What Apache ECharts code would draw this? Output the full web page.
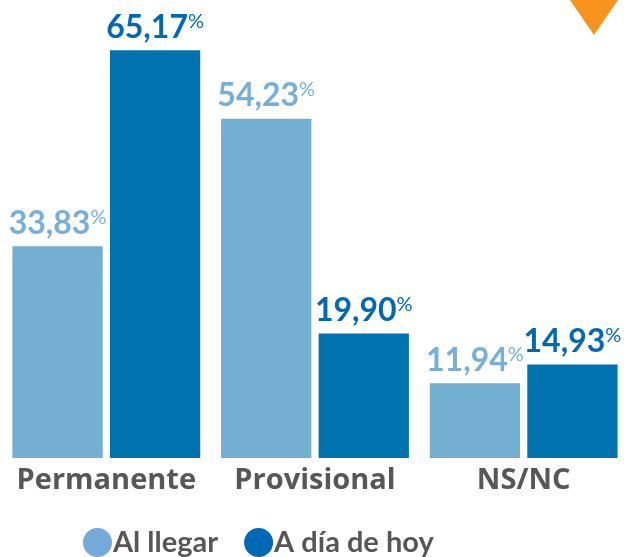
<!DOCTYPE html>
<html lang="es">
<head>
    <meta charset="UTF-8">
    <script src="https://cdn.jsdelivr.net/npm/echarts@6/dist/echarts.min.js"></script>
    <title>situacion</title>
</head>
<body style="margin: 0; background: #fff">
<div id="container" style="width: 628px; height: 557px"></div>
<script>
    // datos
    var categorias = ['Permanente', 'Provisional', 'NS/NC'];
    var alLlegar = [33.83, 54.23, 11.94];
    var aDiaDeHoy = [65.17, 19.90, 14.93];

    var colorClaro = '#72afd0';
    var colorOscuro = '#0072ae';
    var textoClaro = '#78afd8';
    var textoOscuro = '#0068b2';
    var gris = '#575757';
    var fuente = 'Lato';

    function etiqueta(color) {
        return {
            show: true,
            position: 'top',
            distance: 7,
            formatter: function (p) {
                return '{v|' + p.value.toFixed(2).replace('.', ',') + '}{p|%}';
            },
            rich: {
                v: {fontFamily: fuente, fontWeight: 'bold', fontSize: 32, color: color},
                p: {fontFamily: fuente, fontSize: 20, color: color, padding: [0, 0, 12, 0]}
            }
        };
    }

    var myChart = echarts.init(document.getElementById('container'));
    var option = {
        animation: false,
        grid: {left: 2, right: -2, top: 20, bottom: 99},
        legend: {
            left: 78,
            top: 523,
            icon: 'circle',
            itemWidth: 29,
            itemHeight: 29,
            itemGap: 26,
            textStyle: {fontFamily: fuente, fontWeight: 'bold', fontSize: 29, color: gris, padding: [0, 0, 0, -4]},
            data: [
                {name: 'Al llegar', itemStyle: {color: '#74aad8'}},
                {name: 'A día de hoy', itemStyle: {color: '#0068b4'}}
            ]
        },
        xAxis: {
            type: 'category',
            data: categorias,
            axisLine: {show: false},
            axisTick: {show: false},
            axisLabel: {interval: 0, hideOverlap: false, fontFamily: 'Open Sans', fontWeight: 'bold', fontSize: 29, color: gris, margin: 8}
        },
        yAxis: {
            type: 'value',
            min: 0,
            max: 70,
            show: false,
            splitLine: {show: false}
        },
        series: [
            {
                name: 'Al llegar',
                type: 'bar',
                data: alLlegar,
                barGap: '8%',
                barCategoryGap: '10%',
                itemStyle: {color: colorClaro},
                label: etiqueta(textoClaro)
            },
            {
                name: 'A día de hoy',
                type: 'bar',
                data: aDiaDeHoy,
                itemStyle: {color: colorOscuro},
                label: etiqueta(textoOscuro)
            }
        ],
        graphic: [
            {
                type: 'polygon',
                shape: {points: [[570, 0], [618, 0], [594, 35]]},
                style: {fill: '#f7941d'}
            }
        ]
    };
    myChart.setOption(option);
</script>
</body>
</html>
